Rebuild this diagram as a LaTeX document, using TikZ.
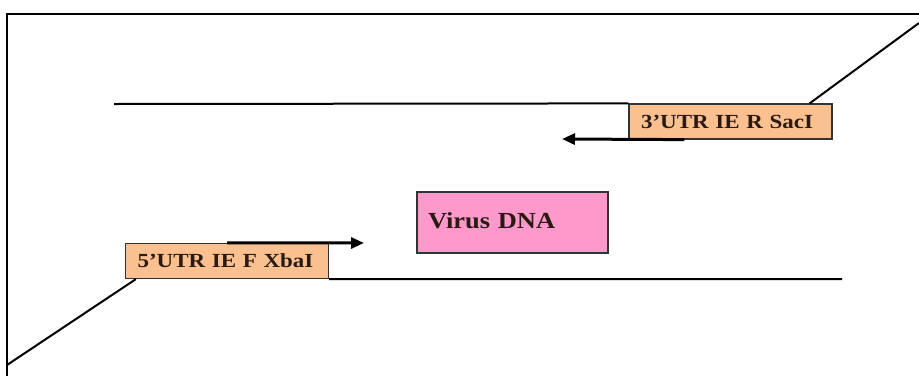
\documentclass[tikz,border=0pt]{standalone}
\usepackage{fontspec}
\setmainfont{Liberation Serif}
\newfontfamily\labelfont{Liberation Serif}[FakeStretch=1.15]
\usepackage{xcolor}
\usetikzlibrary{arrows.meta,positioning}

\definecolor{peach}{HTML}{FAC090}
\definecolor{virpink}{HTML}{FF99CC}
\definecolor{inkdark}{HTML}{2A1A12}

\begin{document}
\begin{tikzpicture}[
  x=1pt, y=-1pt,
  primer/.style={rectangle, draw=black!80, line width=1.2pt, fill=peach,
                 minimum width=203pt, minimum height=35pt, inner xsep=12pt,
                 text width=179pt, align=left, text=inkdark,
                 font=\labelfont\bfseries\fontsize{20}{22}\selectfont},
  dnabox/.style={rectangle, draw=black!80, line width=1.2pt, fill=virpink,
                 minimum width=191pt, minimum height=61pt, inner xsep=11pt,
                 text width=169pt, align=left, text=inkdark,
                 font=\labelfont\bfseries\fontsize{23}{25}\selectfont},
  strand/.style={line width=2pt, black},
  arrow/.style={-{Triangle[length=13pt, width=11pt]}, line width=3pt}
]
\useasboundingbox (0,0) rectangle (919,376);

% frame
\draw[line width=1.6pt] (7,376) -- (7,14) -- (919,14);

\node[primer] (rev) at (730.5,121.5) {3’UTR IE R SacI};
\node[primer] (fwd) at (227,261) {5’UTR IE F XbaI};
\node[dnabox] (virus) at (512.5,222.5) {\raisebox{3pt}{Virus DNA}};

\coordinate (topstart) at (114,104);
\coordinate (topend) at (919,23);
\coordinate (botend) at (842,279);
\coordinate (botstart) at (7,365);
\coordinate (revtip) at (562,139);
\coordinate (fwdtip) at (364,243);

% strands
\draw[strand] (topstart) -- (rev.north west);
\draw[strand] ([xshift=-23pt]rev.north east) -- (topend);
\draw[strand] (fwd.south east) -- (botend);
\draw[strand] ([xshift=11pt]fwd.south west) -- (botstart);

% primers
\draw[arrow] ([xshift=56pt]rev.south west) -- (revtip);
\draw[arrow] (fwd.north) -- (fwdtip);

\end{tikzpicture}
\end{document}
